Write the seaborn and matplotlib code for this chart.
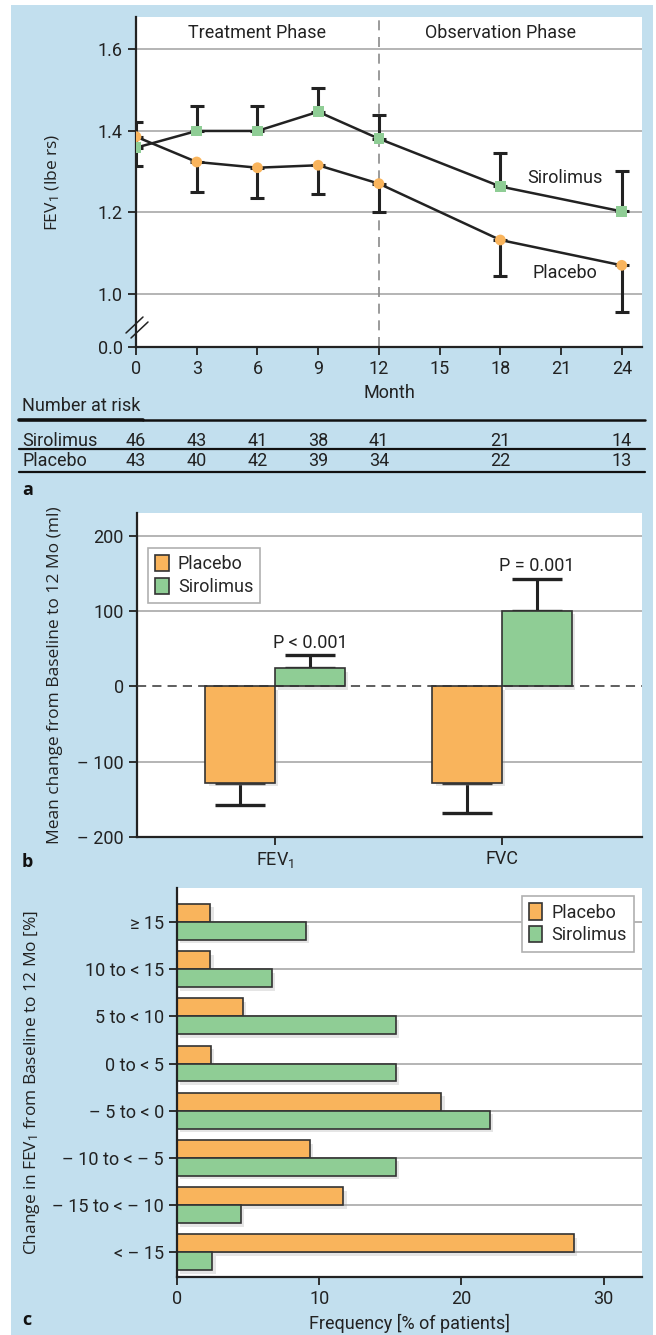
import numpy as np
import pandas as pd
import matplotlib
matplotlib.use("Agg")
import matplotlib.pyplot as plt
import matplotlib.patheffects as pe
from matplotlib.lines import Line2D
from matplotlib.patches import Patch, Rectangle
from matplotlib import transforms
import seaborn as sns

# ---------------- data ----------------
months = [0, 3, 6, 9, 12, 18, 24]
sirolimus_fev1 = [1.358, 1.399, 1.399, 1.446, 1.380, 1.263, 1.202]
sirolimus_upper = [1.420, 1.459, 1.459, 1.505, 1.439, 1.346, 1.300]
placebo_fev1 = [1.385, 1.323, 1.309, 1.315, 1.270, 1.132, 1.070]
placebo_lower = [1.312, 1.249, 1.236, 1.244, 1.200, 1.044, 0.956]
risk_sirolimus = [46, 43, 41, 38, 41, 21, 14]
risk_placebo = [43, 40, 42, 39, 34, 22, 13]

change_measures = ["FEV$_1$", "FVC"]
change_placebo = [-128, -128]
change_placebo_err = [29, 40]
change_sirolimus = [24, 100]
change_sirolimus_err = [17, 43]
p_values = ["P < 0.001", "P = 0.001"]

fev1_bins = ["≥ 15", "10 to < 15", "5 to < 10", "0 to < 5", "– 5 to < 0",
             "– 10 to < – 5", "– 15 to < – 10", "< – 15"]
freq_placebo = [2.34, 2.34, 4.61, 2.39, 18.6, 9.34, 11.7, 27.9]
freq_sirolimus = [9.05, 6.68, 15.4, 15.4, 22.0, 15.4, 4.5, 2.48]

groups = ["Placebo", "Sirolimus"]

# ---------------- style ----------------
sns.set_style("white")
plt.rcParams["font.family"] = ["Roboto", "DejaVu Sans"]
plt.rcParams["mathtext.fontset"] = "custom"
plt.rcParams["mathtext.rm"] = "Roboto"
plt.rcParams["mathtext.it"] = "Roboto"

ORANGE = "#f9b45c"
GREEN = "#8fcd95"
BG = "#c2dfee"
TXT = "#222222"
GRID = "#a0a0a0"
palette = {"Placebo": ORANGE, "Sirolimus": GREEN}
TICK_FS = 13
LABEL_FS = 12.5
LABEL_FAMILY = ["Open Sans", "DejaVu Sans"]

W, H = 656, 1335
fig = plt.figure(figsize=(W / 100, H / 100), dpi=100)
fig.patch.set_facecolor("white")
fig.add_artist(Rectangle((11 / W, 0), (653 - 11) / W, 1 - 5 / H,
                         transform=fig.transFigure, facecolor=BG,
                         edgecolor="none", zorder=0))


def px_axes(left, top, right, bottom):
    return fig.add_axes([left / W, 1 - bottom / H, (right - left) / W,
                         (bottom - top) / H])


def fy(y):
    return 1 - y / H


def style_axes(ax):
    for s in ["top", "right"]:
        ax.spines[s].set_visible(False)
    for s in ["left", "bottom"]:
        ax.spines[s].set_color("#222222")
        ax.spines[s].set_linewidth(1.6)
    ax.tick_params(direction="out", length=6, width=1.3, color="#222222",
                   labelsize=TICK_FS, labelcolor=TXT, left=True, bottom=True)
    ax.set_facecolor("white")


shadow = [pe.SimplePatchShadow(offset=(2.5, -2.5), shadow_rgbFace="0.6", alpha=0.25),
          pe.Normal()]

# ================= panel a: FEV1 over time =================
ax1 = px_axes(136, 17, 642, 347)
style_axes(ax1)
df_line = pd.DataFrame({
    "Month": months * 2,
    "FEV1": sirolimus_fev1 + placebo_fev1,
    "Group": ["Sirolimus"] * len(months) + ["Placebo"] * len(months),
})
sns.lineplot(data=df_line, x="Month", y="FEV1", units="Group", estimator=None,
             color="#222222", linewidth=1.8, ax=ax1, zorder=3)
s_err = np.array(sirolimus_upper) - np.array(sirolimus_fev1)
p_err = np.array(placebo_fev1) - np.array(placebo_lower)
ax1.errorbar(months, sirolimus_fev1, yerr=[np.zeros(len(months)), s_err], fmt="none",
             ecolor="#222222", elinewidth=2.2, capsize=5, capthick=2.2, zorder=2)
ax1.errorbar(months, placebo_fev1, yerr=[p_err, np.zeros(len(months))], fmt="none",
             ecolor="#222222", elinewidth=2.2, capsize=5, capthick=2.2, zorder=2)
sns.scatterplot(data=df_line, x="Month", y="FEV1", hue="Group", style="Group",
                markers={"Sirolimus": "s", "Placebo": "o"}, palette=palette,
                s=60, linewidth=0, legend=False, ax=ax1, zorder=4)
ax1.set_xlim(0, 25)
ax1.set_ylim(0.87, 1.678)
ax1.set_xticks(range(0, 25, 3))
ax1.set_yticks([0.87, 1.0, 1.2, 1.4, 1.6])
ax1.set_yticklabels(["0.0", "1.0", "1.2", "1.4", "1.6"])
for yv in [1.0, 1.2, 1.4, 1.6]:
    ax1.axhline(yv, color=GRID, lw=1.1, zorder=1)
ax1.axvline(12, color="#8a8a8a", lw=1.2, dashes=(6, 4), zorder=1)
ax1.set_xlabel("Month", fontsize=TICK_FS, color=TXT, labelpad=4)
ax1.set_ylabel("FEV$_1$ (lbe rs)", fontsize=LABEL_FS, color=TXT, family=LABEL_FAMILY)
ax1.yaxis.set_label_coords((62 - 136) / 506, 0.5)
ax1.text(6, 1.64, "Treatment Phase", ha="center", va="center", fontsize=TICK_FS, color=TXT)
ax1.text(18, 1.64, "Observation Phase", ha="center", va="center", fontsize=TICK_FS, color=TXT)
ax1.text(21.2, 1.283, "Sirolimus", ha="center", va="center", fontsize=TICK_FS, color=TXT)
ax1.text(21.2, 1.05, "Placebo", ha="center", va="center", fontsize=TICK_FS, color=TXT)
# axis break marks
for dx, dy in ((0, 0), (5, -5)):
    ax1.plot([(-10 + dx) / 506, (7 + dx) / 506], [(14 + dy) / 330, (30 + dy) / 330],
             transform=ax1.transAxes, color="#222222", lw=1.1, clip_on=False)

# number-at-risk table
blend = transforms.blended_transform_factory(ax1.transData, fig.transFigure)
fig.text(22 / W, fy(406), "Number at risk", ha="left", va="center", fontsize=TICK_FS, color=TXT)
fig.text(22 / W, fy(441), "Sirolimus", ha="left", va="center", fontsize=TICK_FS, color=TXT)
fig.text(22 / W, fy(461), "Placebo", ha="left", va="center", fontsize=TICK_FS, color=TXT)
for m, a, b in zip(months, risk_sirolimus, risk_placebo):
    fig.text(m, fy(441), str(a), transform=blend, ha="center", va="center",
             fontsize=TICK_FS, color=TXT)
    fig.text(m, fy(461), str(b), transform=blend, ha="center", va="center",
             fontsize=TICK_FS, color=TXT)
fig.add_artist(Line2D([19 / W, 143 / W], [fy(419.5)] * 2, color="#111111", lw=2.6))
fig.add_artist(Line2D([143 / W, 645 / W], [fy(420)] * 2, color="#111111", lw=1.8))
fig.add_artist(Line2D([19 / W, 645 / W], [fy(449)] * 2, color="#111111", lw=1.6))
fig.add_artist(Line2D([19 / W, 645 / W], [fy(472)] * 2, color="#111111", lw=1.6))
fig.text(22 / W, fy(490), "a", ha="left", va="center", fontsize=13, weight="bold",
         color="#111111", family=LABEL_FAMILY)

# ================= panel b: mean change at 12 months =================
ax2 = px_axes(137, 513, 642, 837)
style_axes(ax2)
df_change = pd.DataFrame({
    "Measure": change_measures * 2,
    "Change": change_placebo + change_sirolimus,
    "Group": ["Placebo"] * 2 + ["Sirolimus"] * 2,
})
for yv in [200, 100, -100]:
    ax2.axhline(yv, color=GRID, lw=1.1, zorder=0)
sns.barplot(data=df_change, x="Measure", y="Change", hue="Group", palette=palette,
            width=0.616, edgecolor="#333333", linewidth=1.2, errorbar=None,
            saturation=1, legend=False, ax=ax2, zorder=2)
errs = {"Placebo": change_placebo_err, "Sirolimus": change_sirolimus_err}
for cont, grp in zip(ax2.containers, groups):
    for bar, e in zip(cont, errs[grp]):
        bar.set_path_effects(shadow)
        xc = bar.get_x() + bar.get_width() / 2
        h = bar.get_height()
        lo, hi = (e, 0) if h < 0 else (0, e)
        ax2.errorbar([xc], [h], yerr=[[lo], [hi]], fmt="none", ecolor="#222222",
                     elinewidth=2.2, capsize=18, capthick=2.4, zorder=1)
for bar, txt in zip(ax2.containers[1], p_values):
    xc = bar.get_x() + bar.get_width() / 2
    ytxt = 57 if bar.get_height() < 50 else 160
    ax2.text(xc, ytxt, txt, ha="center", va="center", fontsize=TICK_FS, color=TXT)
ax2.axhline(0, color="#333333", lw=1.1, dashes=(6, 4), zorder=3)
ax2.set_xlim(-0.608, 1.617)
ax2.set_ylim(-200, 230)
ax2.set_yticks([200, 100, 0, -100, -200])
ax2.set_yticklabels(["200", "100", "0", "– 100", "– 200"])
ax2.set_xlabel("")
ax2.set_ylabel("Mean change from Baseline to 12 Mo (ml)", fontsize=LABEL_FS, color=TXT,
               family=LABEL_FAMILY)
ax2.yaxis.set_label_coords((63 - 137) / 505, 0.5)
leg_handles = [Patch(facecolor=palette[g], edgecolor="#333333", linewidth=1.2) for g in groups]
lg2 = ax2.legend(leg_handles, groups, loc="upper left", bbox_to_anchor=(0.022, 0.892),
                 borderaxespad=0, frameon=True, fancybox=False, framealpha=1,
                 edgecolor="#b0b0b0", fontsize=TICK_FS, handlelength=0.75,
                 handleheight=1.0, handletextpad=0.5, labelspacing=0.25,
                 borderpad=0.4)
lg2.get_frame().set_linewidth(1.2)
fig.text(22 / W, fy(862), "b", ha="left", va="center", fontsize=13, weight="bold",
         color="#111111", family=LABEL_FAMILY)

# ================= panel c: distribution of FEV1 change =================
ax3 = px_axes(177, 888, 642, 1277)
style_axes(ax3)
df_freq = pd.DataFrame({
    "Bin": fev1_bins * 2,
    "Frequency": freq_placebo + freq_sirolimus,
    "Group": ["Placebo"] * len(fev1_bins) + ["Sirolimus"] * len(fev1_bins),
})
for i in range(len(fev1_bins)):
    ax3.axhline(i, color=GRID, lw=1.1, zorder=0)
sns.barplot(data=df_freq, y="Bin", x="Frequency", hue="Group", palette=palette,
            orient="h", width=0.76, edgecolor="#333333", linewidth=1.2,
            errorbar=None, saturation=1, legend=False, ax=ax3, zorder=2)
for cont in ax3.containers:
    for bar in cont:
        bar.set_path_effects(shadow)
ax3.set_xlim(0, 32.7)
ax3.set_ylim(7.52, -0.717)
ax3.set_xticks([0, 10, 20, 30])
ax3.set_ylabel("Change in FEV$_1$ from Baseline to 12 Mo [%]", fontsize=LABEL_FS,
               color=TXT, family=LABEL_FAMILY)
ax3.yaxis.set_label_coords((42 - 177) / 465, 0.5)
ax3.set_xlabel("Frequency [% of patients]", fontsize=TICK_FS, color=TXT, labelpad=4)
lg3 = ax3.legend(leg_handles, groups, loc="upper right", bbox_to_anchor=(0.983, 0.979),
                 borderaxespad=0, frameon=True, fancybox=False, framealpha=1,
                 edgecolor="#b0b0b0", fontsize=TICK_FS, handlelength=0.75,
                 handleheight=1.0, handletextpad=0.5, labelspacing=0.25,
                 borderpad=0.4)
lg3.get_frame().set_linewidth(1.2)
fig.text(22 / W, fy(1320), "c", ha="left", va="center", fontsize=13, weight="bold",
         color="#111111", family=LABEL_FAMILY)

fig.savefig("out.png", dpi=100, facecolor=fig.get_facecolor())
